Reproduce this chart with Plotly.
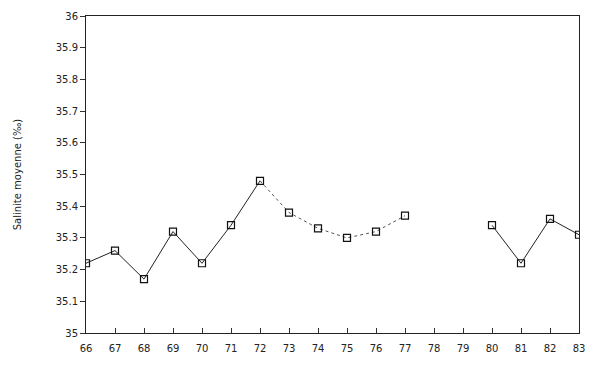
import plotly.graph_objects as go

years = [66, 67, 68, 69, 70, 71, 72, 73, 74, 75, 76, 77, 78, 79, 80, 81, 82, 83]
salinity = [35.22, 35.26, 35.17, 35.32, 35.22, 35.34, 35.48, 35.38, 35.33, 35.30,
            35.32, 35.37, None, None, 35.34, 35.22, 35.36, 35.31]
y_ticks = [35, 35.1, 35.2, 35.3, 35.4, 35.5, 35.6, 35.7, 35.8, 35.9, 36]
y_tick_labels = ["35", "35.1", "35.2", "35.3", "35.4", "35.5", "35.6", "35.7", "35.8", "35.9", "36"]

solid_a = list(range(0, 7))
solid_b = list(range(14, 18))
dot_idx = list(range(6, 12))

fig = go.Figure()
# solid segments 66-72 and 80-83
fig.add_trace(go.Scatter(
    x=[years[i] for i in solid_a] + [None] + [years[i] for i in solid_b],
    y=[salinity[i] for i in solid_a] + [None] + [salinity[i] for i in solid_b],
    mode="lines", line=dict(color="#222", width=1), hoverinfo="skip", showlegend=False))
# lighter segment 72-77
fig.add_trace(go.Scatter(
    x=[years[i] for i in dot_idx], y=[salinity[i] for i in dot_idx],
    mode="lines", line=dict(color="#555", width=1, dash="dot"), hoverinfo="skip", showlegend=False))
fig.add_trace(go.Scatter(
    x=years, y=salinity, mode="markers",
    marker=dict(symbol="square-open", size=7, color="#111", line=dict(width=1.2)),
    showlegend=False))

fig.update_layout(
    width=600, height=366,
    margin=dict(l=86, r=21, t=10, b=33),
    paper_bgcolor="white", plot_bgcolor="white",
    font=dict(family="DejaVu Sans", size=10, color="#222"),
    xaxis=dict(range=[66, 83], tickmode="array", tickvals=years,
               ticktext=[str(y) for y in years], ticks="inside", ticklen=5,
               tickcolor="#333", showgrid=False, zeroline=False,
               showline=True, linecolor="#222", linewidth=1, mirror=True,
               ticklabelstandoff=6,
               tickfont=dict(size=10, color="#222")),
    yaxis=dict(range=[35, 36], tickmode="array", tickvals=y_ticks,
               ticktext=y_tick_labels, ticks="outside", ticklen=5,
               tickcolor="#333", showgrid=False, zeroline=False,
               showline=True, linecolor="#222", linewidth=1, mirror=True,
               title=dict(text="Salinite moyenne (‰)", standoff=32,
                          font=dict(size=10, color="#222")),
               tickfont=dict(size=10, color="#222")),
)
fig.write_html("out.html")
